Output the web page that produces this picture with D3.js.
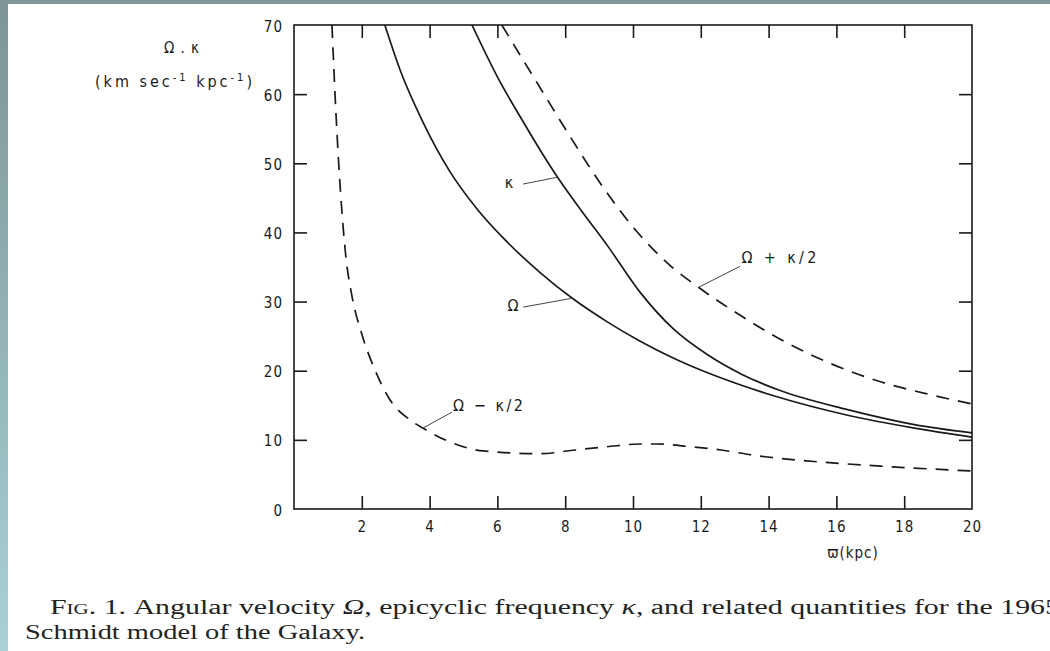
<!DOCTYPE html>
<html><head><meta charset="utf-8">
<script src="https://cdn.jsdelivr.net/npm/d3@7/dist/d3.min.js"></script>
<style>html,body{margin:0;padding:0;background:#fff;overflow:hidden}</style>
</head><body>
<svg id="c" width="1050" height="651"></svg>
<script>
// ---- data ----
const xTickValues = [2, 4, 6, 8, 10, 12, 14, 16, 18, 20];
const yTickValues = [0, 10, 20, 30, 40, 50, 60, 70];

const omegaR   = [2.68, 3.13, 3.8, 4.6, 5.4, 6.17, 7.26, 8.23, 9.23, 10.2, 11.2, 12.2, 13.2, 14.2, 16.3, 18.3, 20];
const omegaV   = [70, 63.5, 56.0, 48.8, 43.4, 39.2, 34.2, 30.4, 27.1, 24.3, 21.8, 19.7, 17.9, 16.3, 13.6, 11.7, 10.4];

const kappaR   = [5.25, 6.0, 6.76, 7.3, 7.8, 8.5, 9.23, 10.2, 11.2, 12.2, 13.2, 14.3, 16.3, 18.3, 20];
const kappaV   = [70, 62.5, 56.0, 51.6, 47.8, 43.0, 38.2, 31.4, 26, 22.3, 19.5, 17.2, 14.4, 12.2, 11.0];

const plusR    = [6.13, 7.55, 8.23, 9.15, 10.1, 11.1, 11.95, 13.2, 14.4, 15.8, 17.3, 18.8, 20];
const plusV    = [70, 58.6, 53.2, 46.3, 40.2, 35.2, 32.0, 27.9, 24.4, 21.1, 18.4, 16.5, 15.2];

const minusR   = [1.12, 1.24, 1.37, 1.53, 1.71, 2.0, 2.39, 2.83, 3.42, 3.8, 4.6, 5.58, 7.3, 8.23, 9.23, 10.2, 10.7, 11.7, 12.65, 13.65, 14.8, 17.3, 20];
const minusV   = [70, 57, 46, 36.5, 30.8, 25.3, 20.1, 15.8, 12.9, 11.7, 9.7, 8.4, 8.0, 8.5, 9.0, 9.4, 9.4, 9.0, 8.5, 7.7, 7.1, 6.2, 5.5];

// annotation labels: text, label anchor (x,y), leader start (x,y), leader tip (x,y) in data units
const labelTexts = ["κ", "Ω", "Ω + κ/2", "Ω − κ/2"];
const labelPos   = [[6.34, 47.2], [6.46, 29.4], [13.2, 36.4], [4.69, 15.0]];
const leaderFrom = [[6.76, 47.0], [6.76, 29.2], [13.16, 35.1], [4.66, 14.0]];
const leaderTo   = [[7.79, 48.0], [8.23, 30.5], [11.95, 32.1], [3.8, 11.7]];

// ---- drawing ----
(function () {
const svg = d3.select("#c");
const W = 1050, H = 651;
const L = 294, R = 972, T = 25, B = 509;

const defs = svg.append("defs");
const g1 = defs.append("linearGradient").attr("id", "lg").attr("x1", 0).attr("y1", 0).attr("x2", 0).attr("y2", 1);
g1.append("stop").attr("offset", "0%").attr("stop-color", "#7d9595");
g1.append("stop").attr("offset", "100%").attr("stop-color", "#a9d1d6");
defs.append("clipPath").attr("id", "clip").append("rect")
  .attr("x", L).attr("y", T).attr("width", R - L).attr("height", B - T);

svg.append("rect").attr("width", W).attr("height", H).attr("fill", "#fff");
svg.append("rect").attr("width", W).attr("height", 4).attr("fill", "#7f9797");
svg.append("rect").attr("width", 8).attr("height", H).attr("fill", "url(#lg)");

const x = d3.scaleLinear().domain([0, 20]).range([L, R]);
const y = d3.scaleLinear().domain([0, 70]).range([B, T]);

const ink = "#1a1a1a";
const tickFont = "'DejaVu Sans Condensed','DejaVu Sans',sans-serif";

// frame
svg.append("rect").attr("x", L).attr("y", T).attr("width", R - L).attr("height", B - T)
  .attr("fill", "none").attr("stroke", ink).attr("stroke-width", 1.6);

// axes with inward ticks
const tickLen = 13;
const axB = svg.append("g").attr("transform", `translate(0,${B})`)
  .call(d3.axisBottom(x).tickValues(xTickValues).tickSize(-tickLen).tickPadding(14).tickFormat(d3.format("d")));
const axT = svg.append("g").attr("transform", `translate(0,${T})`)
  .call(d3.axisTop(x).tickValues(xTickValues.filter(v => v < 20)).tickSize(-tickLen).tickFormat(""));
const axL = svg.append("g").attr("transform", `translate(${L},0)`)
  .call(d3.axisLeft(y).tickValues(yTickValues).tickSize(-tickLen).tickPadding(11).tickFormat(d3.format("d")));
const axR = svg.append("g").attr("transform", `translate(${R},0)`)
  .call(d3.axisRight(y).tickValues(yTickValues.filter(v => v > 0 && v < 70)).tickSize(-tickLen).tickFormat(""));

[axB, axT, axL, axR].forEach(a => {
  a.select(".domain").remove();
  a.selectAll(".tick line").attr("stroke", ink).attr("stroke-width", 1.6);
  a.selectAll(".tick text").attr("fill", ink).attr("font-family", tickFont)
    .attr("font-size", 15).attr("letter-spacing", 1);
});
axB.selectAll(".tick").filter(d => d === 20).select("line").remove();
axL.selectAll(".tick").filter(d => d === 0 || d === 70).select("line").remove();
axL.selectAll(".tick text").attr("dy", "0.4em");
axB.selectAll(".tick text").attr("dy", "0.6em");

// curves
const line = d3.line().x(d => x(d[0])).y(d => y(d[1])).curve(d3.curveMonotoneX);
const plot = svg.append("g").attr("clip-path", "url(#clip)");
const series = [
  {r: omegaR, v: omegaV, dash: null},
  {r: kappaR, v: kappaV, dash: null},
  {r: plusR,  v: plusV,  dash: "13,9"},
  {r: minusR, v: minusV, dash: "13,9"}
];
series.forEach(s => {
  plot.append("path").datum(d3.zip(s.r, s.v)).attr("d", line)
    .attr("fill", "none").attr("stroke", ink).attr("stroke-width", 1.7)
    .attr("stroke-dasharray", s.dash);
});

// annotations
const labelWidths = [null, null, 75, 70];
labelTexts.forEach((t, i) => {
  svg.append("line")
    .attr("x1", x(leaderFrom[i][0])).attr("y1", y(leaderFrom[i][1]))
    .attr("x2", x(leaderTo[i][0])).attr("y2", y(leaderTo[i][1]))
    .attr("stroke", "#444").attr("stroke-width", 1);
  const tx = svg.append("text")
    .attr("x", x(labelPos[i][0])).attr("y", y(labelPos[i][1]))
    .attr("dy", "0.35em")
    .attr("text-anchor", i < 2 ? "middle" : "start")
    .attr("font-family", tickFont).attr("font-size", 16).attr("fill", ink)
    .text(t);
  if (labelWidths[i]) tx.attr("textLength", labelWidths[i]).attr("lengthAdjust", "spacing");
});

// y axis title
svg.append("text").attr("x", 182).attr("y", 53).attr("text-anchor", "middle")
  .attr("font-family", tickFont).attr("font-size", 15).attr("fill", ink)
  .attr("letter-spacing", 1).text("Ω . κ");
const yt = svg.append("text").attr("x", 95).attr("y", 87)
  .attr("font-family", tickFont).attr("font-size", 16).attr("fill", ink)
  .attr("textLength", 157).attr("lengthAdjust", "spacing");
yt.append("tspan").text("(km sec");
yt.append("tspan").attr("dy", -6).attr("font-size", 11).text("-1");
yt.append("tspan").attr("dy", 6).text(" kpc");
yt.append("tspan").attr("dy", -6).attr("font-size", 11).text("-1");
yt.append("tspan").attr("dy", 6).text(")");

// x axis title
svg.append("text").attr("x", 853).attr("y", 558).attr("text-anchor", "middle")
  .attr("font-family", tickFont).attr("font-size", 15).attr("fill", ink)
  .attr("letter-spacing", 1).text("ϖ(kpc)");

// caption
const capFont = "'Liberation Serif','DejaVu Serif',serif";
const c1 = svg.append("text").attr("x", 50).attr("y", 614)
  .attr("font-family", capFont).attr("font-size", 20).attr("fill", "#222")
  .attr("textLength", 1010).attr("lengthAdjust", "spacingAndGlyphs");
c1.append("tspan").attr("font-variant", "small-caps").text("Fig. 1. ");
c1.append("tspan").text("Angular velocity ");
c1.append("tspan").attr("font-style", "italic").text("Ω");
c1.append("tspan").text(", epicyclic frequency ");
c1.append("tspan").attr("font-style", "italic").text("κ");
c1.append("tspan").text(", and related quantities for the 1965");
svg.append("text").attr("x", 25).attr("y", 639)
  .attr("font-family", capFont).attr("font-size", 20).attr("fill", "#222")
  .attr("textLength", 340).attr("lengthAdjust", "spacingAndGlyphs")
  .text("Schmidt model of the Galaxy.");
})();
</script>
</body></html>
